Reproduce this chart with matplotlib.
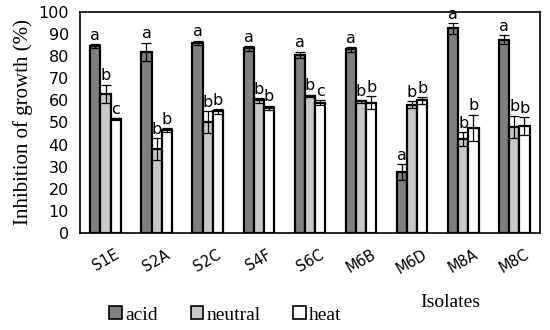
import numpy as np
import matplotlib.pyplot as plt
from matplotlib.patches import Patch

# Data
isolates = ['S1E', 'S2A', 'S2C', 'S4F', 'S6C', 'M6B', 'M6D', 'M8A', 'M8C']
acid = [84.5, 82, 86, 83.5, 80.5, 83, 27.5, 92.5, 87.5]
neutral = [63, 38, 50, 60, 62, 59.5, 58, 42.5, 48]
heat = [51.5, 46.5, 55, 56.5, 59, 59, 60, 47.5, 48.5]
acid_err = [1, 4, 1, 1, 1.5, 1, 3.5, 2.5, 2]
neutral_err = [4, 5, 5, 1, 0.5, 0.5, 1.5, 3, 5]
heat_err = [0.5, 1, 1, 1, 1, 3, 1.5, 6, 4]
acid_lab = ['a'] * 9
neutral_lab = ['b'] * 9
heat_lab = ['c', 'b', 'b', 'b', 'c', 'b', 'b', 'b', 'b']

plt.rcParams['font.family'] = 'DejaVu Sans'
serif = 'Liberation Serif'

fig = plt.figure(figsize=(5.5, 3.3), dpi=100)
ax = fig.add_axes([0.1455, 0.294, 0.836, 0.67])

x = np.arange(len(isolates))
w = 0.2
series = [(acid, acid_err, acid_lab, '#808080', 'acid'),
          (neutral, neutral_err, neutral_lab, '#c8c8c8', 'neutral'),
          (heat, heat_err, heat_lab, 'white', 'heat')]

handles = []
for i, (vals, err, labs, col, name) in enumerate(series):
    pos = x + (i - 1) * w
    ax.bar(pos, vals, width=w, color=col, edgecolor='black', linewidth=1.6)
    ax.errorbar(pos, vals, yerr=err, fmt='none', ecolor='black',
                elinewidth=0.9, capsize=3.5, capthick=0.9)
    for p, v, e, t in zip(pos, vals, err, labs):
        ax.annotate(t, (p, v + e), xytext=(0, 1), textcoords='offset points',
                    ha='center', va='bottom', fontsize=11.5)
    handles.append(Patch(facecolor=col, edgecolor='black', linewidth=1.2, label=name))

ax.set_xlim(-0.5, len(isolates) - 0.5)
ax.set_ylim(0, 100)
ax.set_yticks(range(0, 101, 10))
ax.tick_params(axis='y', length=0, labelsize=11.5, pad=8)
ax.tick_params(axis='x', length=0, labelsize=10.5, pad=10)
ax.set_xticks(x)
ax.set_xticklabels(isolates, rotation=30)
for s in ax.spines.values():
    s.set_linewidth(1.2)

ax.set_ylabel('Inhibition of growth (%)', family=serif, fontsize=15, labelpad=4)
fig.text(0.818, 0.082, 'Isolates', family=serif, fontsize=14, ha='center', va='center')

fig.legend(handles=handles, loc='center', bbox_to_anchor=(0.41, 0.045), ncol=3,
           frameon=False, prop={'family': serif, 'size': 14}, handlelength=0.65,
           handleheight=0.65, handletextpad=0.15, columnspacing=1.7)

fig.savefig('out.png', dpi=100)
